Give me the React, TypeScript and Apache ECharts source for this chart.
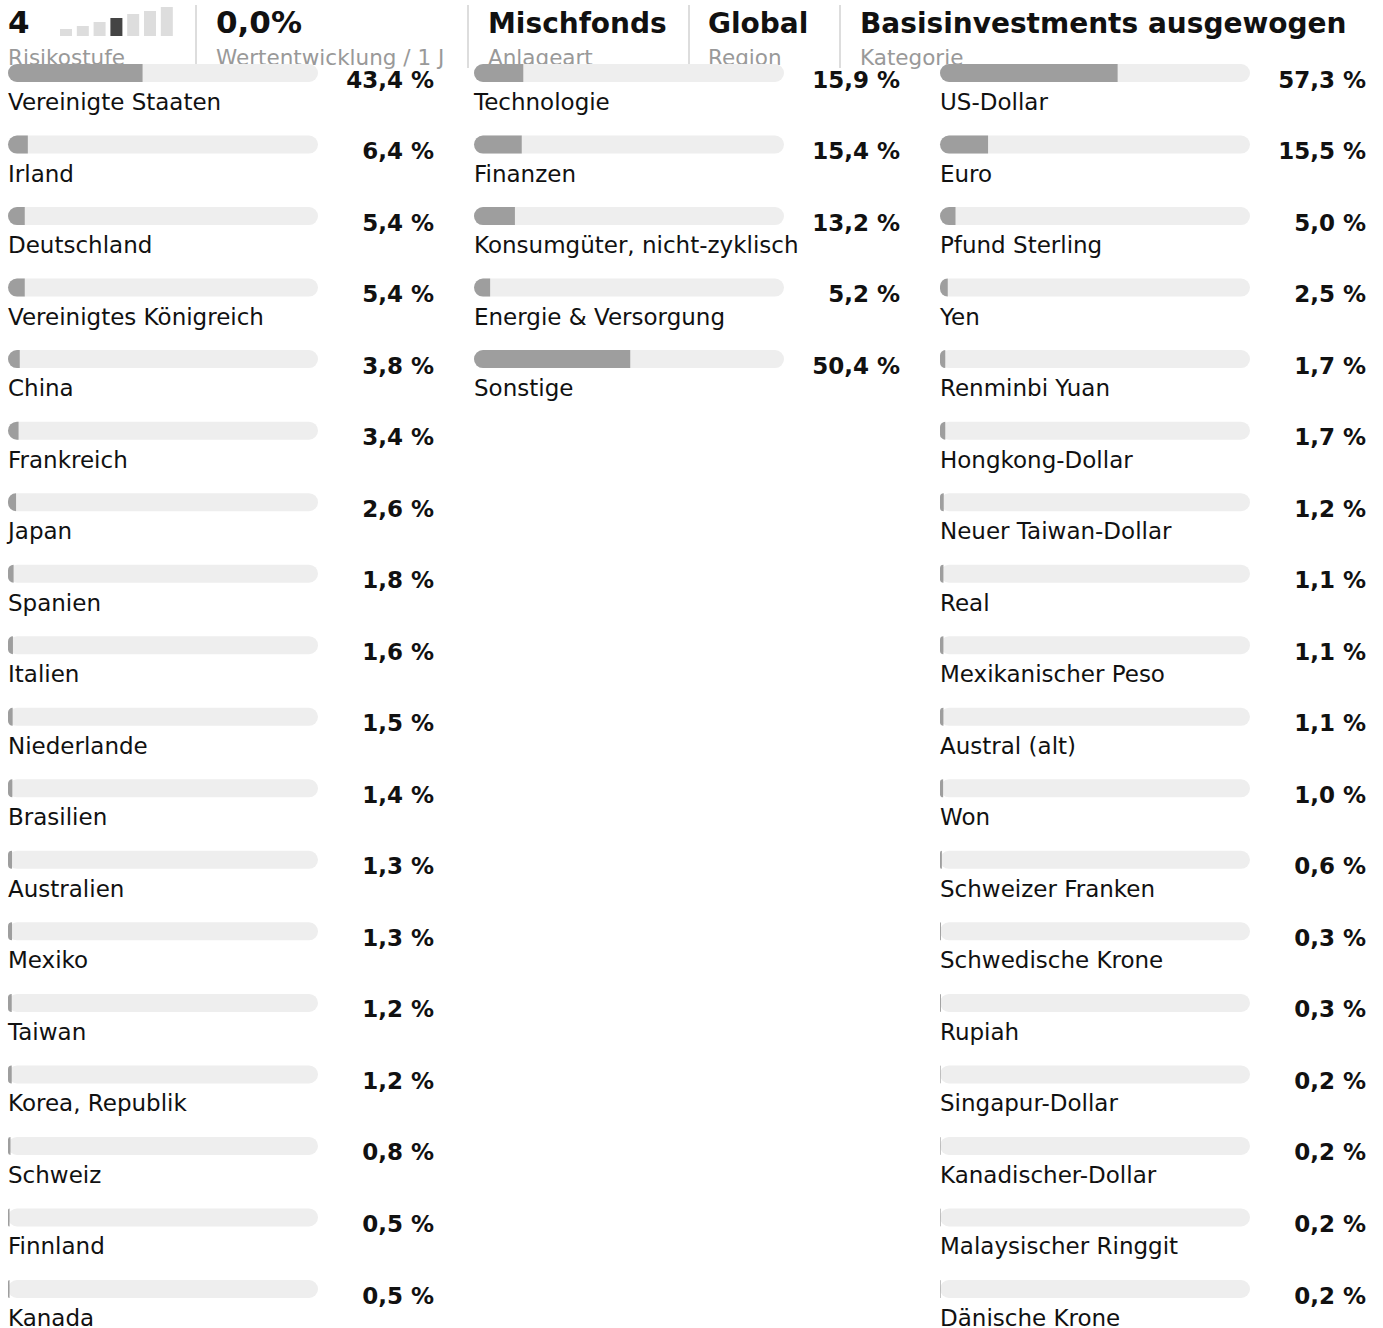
import React, { useEffect, useRef } from "react";
import * as echarts from "echarts";

const countries = ["Vereinigte Staaten", "Irland", "Deutschland", "Vereinigtes Königreich", "China", "Frankreich", "Japan", "Spanien", "Italien", "Niederlande", "Brasilien", "Australien", "Mexiko", "Taiwan", "Korea, Republik", "Schweiz", "Finnland", "Kanada"];
const countryValues = [43.4, 6.4, 5.4, 5.4, 3.8, 3.4, 2.6, 1.8, 1.6, 1.5, 1.4, 1.3, 1.3, 1.2, 1.2, 0.8, 0.5, 0.5];

const sectors = ["Technologie", "Finanzen", "Konsumgüter, nicht-zyklisch", "Energie & Versorgung", "Sonstige"];
const sectorValues = [15.9, 15.4, 13.2, 5.2, 50.4];

const currencies = ["US-Dollar", "Euro", "Pfund Sterling", "Yen", "Renminbi Yuan", "Hongkong-Dollar", "Neuer Taiwan-Dollar", "Real", "Mexikanischer Peso", "Austral (alt)", "Won", "Schweizer Franken", "Schwedische Krone", "Rupiah", "Singapur-Dollar", "Kanadischer-Dollar", "Malaysischer Ringgit", "Dänische Krone"];
const currencyValues = [57.3, 15.5, 5.0, 2.5, 1.7, 1.7, 1.2, 1.1, 1.1, 1.1, 1.0, 0.6, 0.3, 0.3, 0.2, 0.2, 0.2, 0.2];

const headerItems = [
  { value: "4", label: "Risikostufe" },
  { value: "0,0%", label: "Wertentwicklung / 1 J" },
  { value: "Mischfonds", label: "Anlageart" },
  { value: "Global", label: "Region" },
  { value: "Basisinvestments ausgewogen", label: "Kategorie" },
];
const riskLevels = [1, 2, 3, 4, 5, 6, 7];
const riskHeights = [7, 10, 14, 18, 22, 25, 29];
const currentRisk = 4;

const FONT = "DejaVu Sans";
const fmt = (v: number) => v.toFixed(1).replace(".", ",") + " %";

export default function App() {
  const ref = useRef<HTMLDivElement>(null);
  useEffect(() => {
    if (!ref.current) return;
    const chart = echarts.init(ref.current, null, { renderer: "svg" });
    const pitch = (1280 - 64) / 17;
    const top = 73 - pitch / 2;
    const cols = [
      { names: countries, values: countryValues, left: 8 },
      { names: sectors, values: sectorValues, left: 474 },
      { names: currencies, values: currencyValues, left: 940 },
    ];
    const grids: any[] = [];
    const xAxes: any[] = [];
    const yAxes: any[] = [];
    const series: any[] = [];
    cols.forEach((c, i) => {
      grids.push({ left: c.left, top, width: 310, height: c.names.length * pitch });
      xAxes.push({ gridIndex: i, type: "value", min: 0, max: 100, show: false });
      yAxes.push({
        gridIndex: i, type: "category", data: c.names, inverse: true, position: "left",
        axisLine: { show: false }, axisTick: { show: false }, axisLabel: { show: false },
      });
      yAxes.push({
        gridIndex: i, type: "category", data: c.values.map(fmt), inverse: true, position: "right",
        axisLine: { show: false }, axisTick: { show: false },
        axisLabel: {
          show: true, margin: 116, align: "right", verticalAlign: "top", lineHeight: 13,
          fontFamily: FONT, fontWeight: "bold", fontSize: 23, color: "#111",
        },
      });
      series.push({
        type: "bar", xAxisIndex: i, yAxisIndex: i * 2, barWidth: 18, barGap: "-100%",
        data: c.values.map(() => 100), silent: true,
        itemStyle: { color: "#eeeeee", borderRadius: 9 },
        label: {
          show: true, position: [0, "50%"], offset: [0, 29], align: "left", verticalAlign: "middle",
          formatter: (p: any) => p.name, fontFamily: FONT, fontSize: 23, color: "#111",
        },
      });
      series.push({
        type: "bar", xAxisIndex: i, yAxisIndex: i * 2, barWidth: 18, barGap: "-100%",
        data: c.values, silent: true,
        itemStyle: { color: "#9e9e9e", borderRadius: [9, 0, 0, 9] },
      });
    });

    const headerX = [8, 216, 488, 708, 860];
    const headerSize = [31, 31, 28, 28, 28];
    const dividerX = [195, 467, 688, 839];
    const graphic: any[] = [];
    headerItems.forEach((h, i) => {
      graphic.push({
        type: "text", left: headerX[i], top: 9 - (headerSize[i] - 28) * 0.85,
        style: { text: h.value, fontFamily: FONT, fontWeight: "bold", fontSize: headerSize[i], fill: "#111" },
      });
      graphic.push({
        type: "text", left: headerX[i], top: 46,
        style: { text: h.label, fontFamily: FONT, fontSize: 21.5, fill: "#999" },
      });
    });
    dividerX.forEach((x) => {
      graphic.push({ type: "rect", shape: { x, y: 5, width: 2, height: 63 }, style: { fill: "#dddddd" } });
    });
    riskLevels.forEach((lv, i) => {
      const h = riskHeights[i];
      graphic.push({
        type: "rect", shape: { x: 60 + i * 16.8, y: 36 - h, width: 12, height: h },
        style: { fill: lv === currentRisk ? "#444444" : "#dddddd" },
      });
    });

    chart.setOption({
      animation: false,
      grid: grids,
      xAxis: xAxes,
      yAxis: yAxes,
      series,
      graphic,
    });
    return () => chart.dispose();
  }, []);
  return <div ref={ref} style={{ width: 1383, height: 1328, position: "absolute", left: 0, top: 0 }} />;
}
